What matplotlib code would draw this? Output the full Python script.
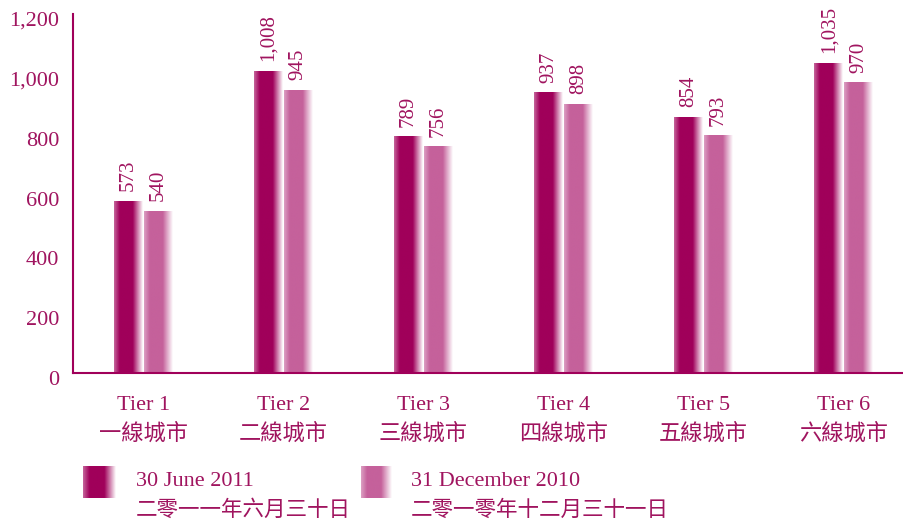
import numpy as np
import matplotlib
matplotlib.use('Agg')
import matplotlib.pyplot as plt
import matplotlib.transforms as mtransforms

plt.rcParams['font.family'] = ['Liberation Serif', 'Noto Sans CJK TC']

tiers = ['Tier 1', 'Tier 2', 'Tier 3', 'Tier 4', 'Tier 5', 'Tier 6']
tiers_zh = ['一線城市', '二線城市', '三線城市', '四線城市', '五線城市', '六線城市']
jun_2011 = [573, 1008, 789, 937, 854, 1035]
dec_2010 = [540, 945, 756, 898, 793, 970]
yticks = [0, 200, 400, 600, 800, 1000, 1200]
legend_en = ['30 June 2011', '31 December 2010']
legend_zh = ['二零一一年六月三十日', '二零一零年十二月三十一日']

dark = '#a0005a'
light = '#c5619b'
txt = '#a0145f'


def gradient(color, n=200):
    # light edge on the left, solid body, fade to white on the right
    t = np.linspace(0, 1, n)
    a = np.where(t < 0.2, 0.6 + 0.4 * t / 0.2, 1.0)
    a = np.where(t > 0.65, 1.0 - (t - 0.65) / 0.35, a)
    a = np.clip(a, 0, 1)
    c = np.array(matplotlib.colors.to_rgb(color))
    img = (1 - a[:, None]) * 1.0 + a[:, None] * c[None, :]
    return img[None, :, :]


fig = plt.figure(figsize=(9.04, 5.22), dpi=100)
ax = fig.add_axes([73 / 904, (522 - 373) / 522, (904 - 73) / 904, (373 - 14) / 522])

w = 0.205
x = np.arange(len(tiers))
for i in x:
    for h, col, x0 in [(jun_2011[i], dark, i - w - 0.004), (dec_2010[i], light, i + 0.004)]:
        ax.imshow(gradient(col), extent=[x0, x0 + w, 0, h], aspect='auto',
                  interpolation='bilinear', zorder=2)
        ax.text(x0 + w / 2, h + 34, f'{h:,}', rotation=90, ha='center', va='bottom',
                color=txt, fontsize=15)

ax.set_xlim(-0.5, 5.43)
ax.set_ylim(0, 1200)
ax.set_aspect('auto')

for s in ['top', 'right']:
    ax.spines[s].set_visible(False)
for s in ['left', 'bottom']:
    ax.spines[s].set_color(dark)
    ax.spines[s].set_linewidth(1.5)
    ax.spines[s].set_zorder(3)

ax.set_yticks(yticks)
ax.set_yticklabels([f'{v:,}' for v in yticks], color=txt, fontsize=16)
ax.tick_params(axis='y', length=0, pad=10)
off = mtransforms.ScaledTranslation(0, -5 / 100, fig.dpi_scale_trans)
for lab in ax.get_yticklabels():
    lab.set_transform(lab.get_transform() + off)

ax.set_xticks(x)
ax.set_xticklabels([f'{a}\n{b}' for a, b in zip(tiers, tiers_zh)], color=txt,
                   fontsize=16, linespacing=1.5)
ax.tick_params(axis='x', length=0, pad=16.5)

# legend
lg = fig.add_axes([0, 0, 1, 1])
lg.axis('off')
for (sx0, sx1, tx), col, en, zh in zip([(83, 116, 136), (361, 392, 411)], [dark, light],
                                       legend_en, legend_zh):
    lg.imshow(gradient(col), extent=[sx0, sx1, 498, 466], aspect='auto',
              interpolation='bilinear')
    lg.text(tx, 481, en, color=txt, fontsize=16, va='center', ha='left')
    lg.text(tx, 511, zh, color=txt, fontsize=15.5, va='center', ha='left')
lg.set_xlim(0, 904)
lg.set_ylim(522, 0)

fig.savefig('out.png', dpi=100)
